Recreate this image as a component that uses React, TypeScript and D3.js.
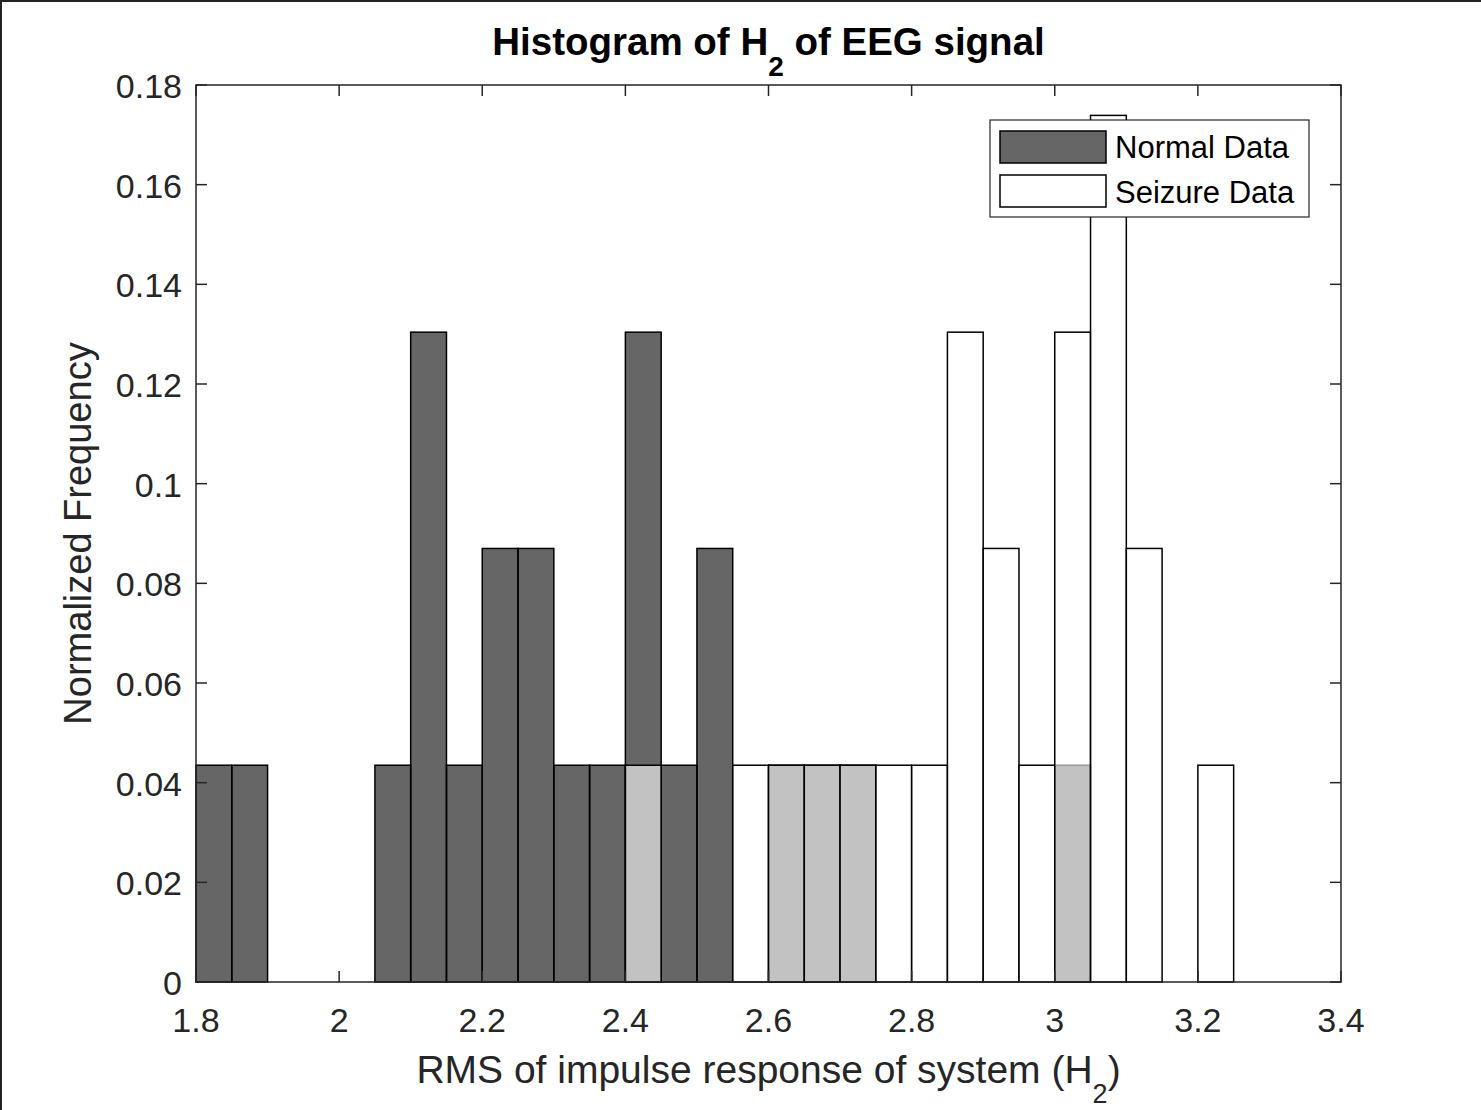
import React from "react";
import * as d3 from "d3";

// Histogram bins (left edges), bin width 0.05
const binStarts = [
  1.8, 1.85, 1.9, 1.95, 2.0, 2.05, 2.1, 2.15, 2.2, 2.25, 2.3, 2.35, 2.4, 2.45, 2.5,
  2.55, 2.6, 2.65, 2.7, 2.75, 2.8, 2.85, 2.9, 2.95, 3.0, 3.05, 3.1, 3.15, 3.2,
];
const binWidth = 0.05;

// Normalized frequencies per bin
const normalFreq = [
  0.0435, 0.0435, 0, 0, 0, 0.0435, 0.1304, 0.0435, 0.087, 0.087, 0.0435, 0.0435, 0.1304, 0.0435, 0.087,
  0, 0.0435, 0.0435, 0.0435, 0, 0, 0, 0, 0, 0.0435, 0, 0, 0, 0,
];
const seizureFreq = [
  0, 0, 0, 0, 0, 0, 0, 0, 0, 0, 0, 0, 0.0435, 0, 0,
  0.0435, 0.0435, 0.0435, 0.0435, 0.0435, 0.0435, 0.1304, 0.087, 0.0435, 0.1304, 0.1739, 0.087, 0, 0.0435,
];

const xTicks = [1.8, 2, 2.2, 2.4, 2.6, 2.8, 3, 3.2, 3.4];
const yTicks = [0, 0.02, 0.04, 0.06, 0.08, 0.1, 0.12, 0.14, 0.16, 0.18];
const seriesNames = ["Normal Data", "Seizure Data"];

const W = 1481;
const H = 1110;
const plot = { left: 196, right: 1341, top: 85, bottom: 982 };
const axisColor = "#262626";
const font = "'Liberation Sans', Arial, sans-serif";

export default function App() {
  const x = d3.scaleLinear().domain([1.8, 3.4]).range([plot.left, plot.right]);
  const y = d3.scaleLinear().domain([0, 0.18]).range([plot.bottom, plot.top]);
  const tickLen = 11;

  const bars = (vals: number[], fill: string, key: string) =>
    binStarts.map((b, i) =>
      vals[i] > 0 ? (
        <rect
          key={key + i}
          x={x(b)}
          y={y(vals[i])}
          width={x(b + binWidth) - x(b)}
          height={y(0) - y(vals[i])}
          fill={fill}
          fillOpacity={0.6}
          stroke="#000"
          strokeWidth={1.5}
        />
      ) : null
    );

  return (
    <div style={{ position: "absolute", left: 0, top: 0 }}>
      <svg width={W} height={H} style={{ display: "block", background: "#fff" }}>
        {/* window frame edges */}
        <rect x={0} y={0} width={W} height={2} fill="#222" />
        <rect x={0} y={0} width={2} height={H} fill="#222" />

        {/* bars */}
        {bars(normalFreq, "#000", "n")}
        {bars(seizureFreq, "#fff", "s")}

        {/* axes box */}
        <rect
          x={plot.left}
          y={plot.top}
          width={plot.right - plot.left}
          height={plot.bottom - plot.top}
          fill="none"
          stroke={axisColor}
          strokeWidth={1.5}
        />

        {/* x ticks */}
        {xTicks.map((t) => (
          <g key={"xt" + t}>
            <line x1={x(t)} x2={x(t)} y1={plot.bottom} y2={plot.bottom - tickLen} stroke={axisColor} strokeWidth={1.5} />
            <line x1={x(t)} x2={x(t)} y1={plot.top} y2={plot.top + tickLen} stroke={axisColor} strokeWidth={1.5} />
            <text x={x(t)} y={1032} textAnchor="middle" fontFamily={font} fontSize={34} fill={axisColor}>
              {String(t)}
            </text>
          </g>
        ))}

        {/* y ticks */}
        {yTicks.map((t) => (
          <g key={"yt" + t}>
            <line x1={plot.left} x2={plot.left + tickLen} y1={y(t)} y2={y(t)} stroke={axisColor} strokeWidth={1.5} />
            <line x1={plot.right} x2={plot.right - tickLen} y1={y(t)} y2={y(t)} stroke={axisColor} strokeWidth={1.5} />
            <text x={182} y={y(t) + 13} textAnchor="end" fontFamily={font} fontSize={34} fill={axisColor}>
              {String(t)}
            </text>
          </g>
        ))}

        {/* title */}
        <text x={(plot.left + plot.right) / 2} y={55} textAnchor="middle" fontFamily={font} fontSize={38.5} fontWeight="bold" fill="#000">
          Histogram of H
          <tspan fontSize={28} dy={21}>2</tspan>
          <tspan dy={-21}> of EEG signal</tspan>
        </text>

        {/* x label */}
        <text x={(plot.left + plot.right) / 2} y={1083} textAnchor="middle" fontFamily={font} fontSize={39} fill={axisColor}>
          RMS of impulse response of system (H
          <tspan fontSize={27} dy={20}>2</tspan>
          <tspan dy={-20}>)</tspan>
        </text>

        {/* y label */}
        <text
          transform={`translate(91, ${(plot.top + plot.bottom) / 2}) rotate(-90)`}
          textAnchor="middle"
          fontFamily={font}
          fontSize={38}
          fill={axisColor}
        >
          Normalized Frequency
        </text>

        {/* legend */}
        <g>
          <rect x={990} y={120} width={319} height={97} fill="#fff" stroke={axisColor} strokeWidth={1.2} />
          {seriesNames.map((name, i) => (
            <g key={name}>
              <rect
                x={1000}
                y={131 + i * 44}
                width={106}
                height={32}
                fill={i === 0 ? "#666666" : "#ffffff"}
                stroke="#000"
                strokeWidth={1.5}
              />
              <text x={1115} y={158 + i * 45} fontFamily={font} fontSize={31} fill="#000">
                {name}
              </text>
            </g>
          ))}
        </g>
      </svg>
    </div>
  );
}
